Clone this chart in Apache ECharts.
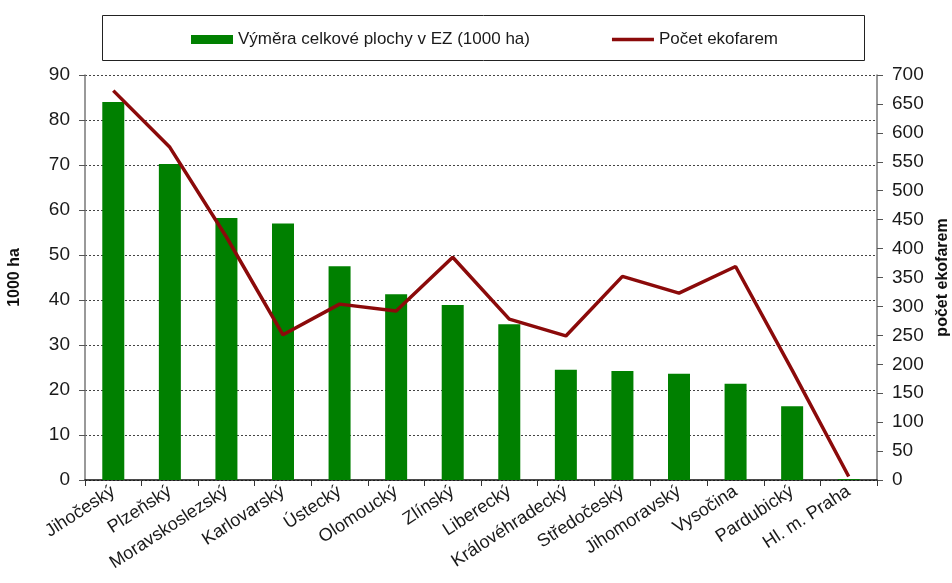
<!DOCTYPE html>
<html>
<head>
<meta charset="utf-8">
<script src="https://cdn.jsdelivr.net/npm/echarts@6/dist/echarts.min.js"></script>
<style>
  html, body { margin: 0; padding: 0; background: #fff; }
  #chart { width: 952px; height: 583px; }
</style>
</head>
<body>
<div id="chart"></div>
<script>
  // kraje
  const regions = ['Jihočeský', 'Plzeňský', 'Moravskoslezský', 'Karlovarský', 'Ústecký', 'Olomoucký', 'Zlínský',
    'Liberecký', 'Královéhradecký', 'Středočeský', 'Jihomoravský', 'Vysočina', 'Pardubický', 'Hl. m. Praha']
  // výměra v 1000 ha
  const areaValues = [84, 70.2, 58.2, 57, 47.5, 41.3, 38.9, 34.6, 24.5, 24.2, 23.6, 21.4, 16.4, 0.2]
  // počet ekofarem
  const farmCounts = [673, 575, 420, 251, 304, 292, 385, 278, 249, 352, 323, 369, 190, 6]

  const leftTicks = { min: 0, max: 90, interval: 10 }
  const rightTicks = { min: 0, max: 700, interval: 50 }

  const chartDom = document.getElementById('chart')
  const myChart = echarts.init(chartDom)
  const font = 'Liberation Sans, Arial, sans-serif'

  let option = {
    backgroundColor: '#fff',
    animation: false,
    textStyle: { fontFamily: font },
    graphic: [
      {
        type: 'rect',
        left: 100,
        top: 13,
        shape: { width: 762, height: 45 },
        style: { fill: 'none', stroke: '#222', lineWidth: 1 }
      }
    ],
    legend: {
      top: 26,
      left: 186,
      itemGap: 82,
      itemWidth: 42,
      itemHeight: 9,
      textStyle: { fontSize: 17, color: '#1a1a1a', fontFamily: font },
      data: [
        { name: 'Výměra celkové plochy v EZ (1000 ha)', icon: 'rect' },
        { name: 'Počet ekofarem', icon: 'path://M0,0H42V3.5H0Z' }
      ]
    },
    grid: { left: 85, right: 75, top: 75, bottom: 103, outerBoundsMode: 'none', containLabel: false },
    xAxis: {
      type: 'category',
      data: regions,
      axisLine: { lineStyle: { color: '#111', width: 1.5 } },
      axisTick: { show: true, length: 6, lineStyle: { color: '#333' } },
      axisLabel: {
        interval: 0,
        rotate: 33,
        fontSize: 18,
        color: '#1a1a1a',
        margin: 10
      }
    },
    yAxis: [
      {
        type: 'value',
        min: leftTicks.min,
        max: leftTicks.max,
        interval: leftTicks.interval,
        name: '1000 ha',
        nameLocation: 'middle',
        nameRotate: 90,
        nameGap: 62,
        nameTextStyle: { fontSize: 16, fontWeight: 'bold', color: '#111' },
        axisLine: { show: true, lineStyle: { color: '#777', width: 1.5 } },
        axisTick: { show: true, length: 6, lineStyle: { color: '#555' } },
        axisLabel: { fontSize: 19, color: '#1a1a1a', margin: 15 },
        splitLine: { show: true, lineStyle: { color: '#444', type: [2, 2], width: 1 } }
      },
      {
        type: 'value',
        min: rightTicks.min,
        max: rightTicks.max,
        interval: rightTicks.interval,
        name: 'počet ekofarem',
        nameLocation: 'middle',
        nameRotate: 90,
        nameGap: 57,
        nameTextStyle: { fontSize: 16, fontWeight: 'bold', color: '#111' },
        axisLine: { show: true, lineStyle: { color: '#777', width: 1.5 } },
        axisTick: { show: true, length: 6, lineStyle: { color: '#555' } },
        axisLabel: { fontSize: 19, color: '#1a1a1a', margin: 15 },
        splitLine: { show: false }
      }
    ],
    series: [
      {
        name: 'Výměra celkové plochy v EZ (1000 ha)',
        type: 'bar',
        yAxisIndex: 0,
        barWidth: 22,
        itemStyle: { color: '#008000' },
        data: areaValues
      },
      {
        name: 'Počet ekofarem',
        type: 'line',
        yAxisIndex: 1,
        symbol: 'none',
        lineStyle: { color: '#8b0a0a', width: 3.5 },
        itemStyle: { color: '#8b0a0a' },
        data: farmCounts
      }
    ]
  }

  option && myChart.setOption(option)
</script>
</body>
</html>
